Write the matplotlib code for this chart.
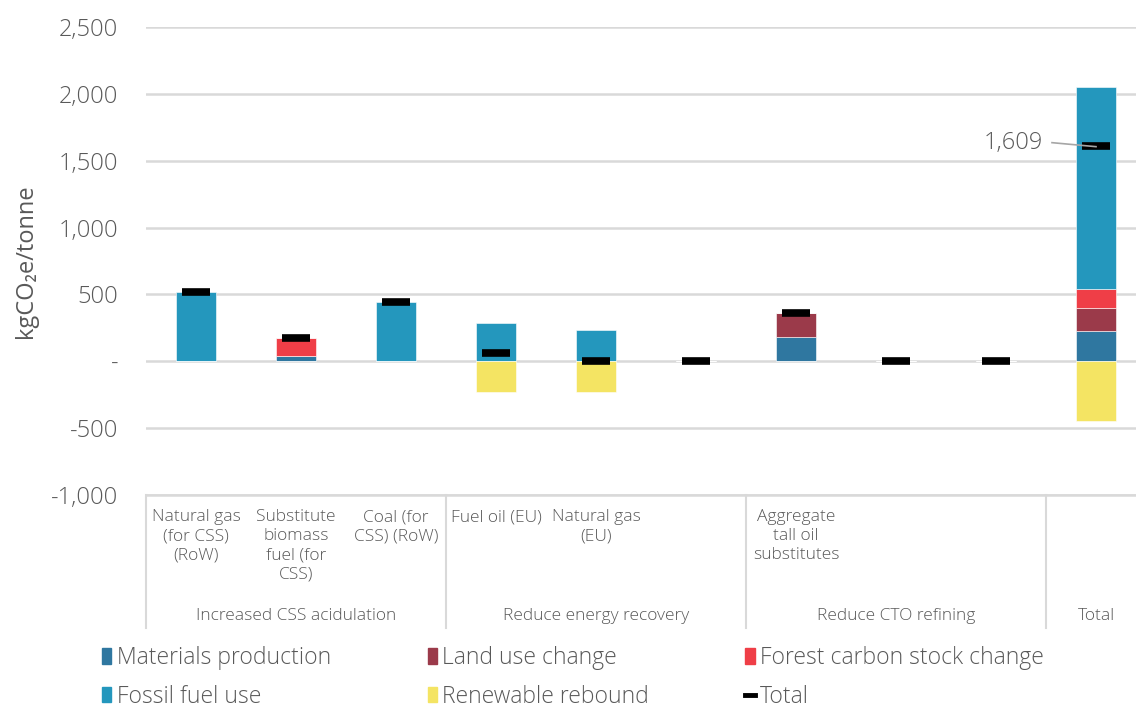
import matplotlib.pyplot as plt
import numpy as np
from matplotlib.patches import Patch
from matplotlib.lines import Line2D

plt.rcParams['font.family'] = ['Open Sans', 'DejaVu Sans']
plt.rcParams['font.weight'] = 'light'

# data
categories = ["Natural gas\n(for CSS)\n(RoW)", "Substitute\nbiomass\nfuel (for\nCSS)",
              "Coal (for\nCSS) (RoW)", "Fuel oil (EU)", "Natural gas\n(EU)", "",
              "Aggregate\ntall oil\nsubstitutes", "", "", ""]
groups = ["Increased CSS acidulation", "Reduce energy recovery", "Reduce CTO refining", "Total"]
group_sizes = [3, 3, 3, 1]

materials = [0, 37, 0, 0, 0, 0, 182, 0, 0, 227]
land_use = [0, 0, 0, 0, 0, 0, 180, 0, 0, 175]
forest = [0, 137, 0, 0, 0, 0, 0, 0, 0, 139]
fossil = [516, 0, 444, 290, 232, 0, 0, 0, 0, 1513]
renewable = [0, 0, 0, -230, -228, 0, 0, 0, 0, -445]
totals = [516, 174, 444, 65, 4, 0, 362, 0, 0, 1609]

c_mat = '#2f77a0'
c_land = '#9b3a4a'
c_forest = '#ef3e47'
c_fossil = '#2497bd'
c_renew = '#f4e463'
grey = '#595959'
gridc = '#d9d9d9'

fig = plt.figure(figsize=(11.36, 7.13), dpi=100)
ax = fig.add_axes([146/1136, (713-495)/713, 1000/1136, 468/713])

x = np.arange(len(categories))
w = 0.4
bottom = np.zeros(len(x))
for vals, col in [(materials, c_mat), (land_use, c_land), (forest, c_forest), (fossil, c_fossil)]:
    v = np.array(vals, dtype=float)
    ax.bar(x, v, w, bottom=bottom, color=col, edgecolor='white', linewidth=0.4, zorder=2)
    bottom += v
ax.bar(x, renewable, w, color=c_renew, edgecolor='white', linewidth=0.4, zorder=2)
ax.plot(x, totals, linestyle='none', marker='_', markersize=20, markeredgewidth=5.5,
        color='black', zorder=3)

# annotation for the overall total
ax.plot([8.56, 9.0], [1635, 1605], color='#a6a6a6', lw=1.2, zorder=4)
ax.text(8.47, 1635, "1,609", ha='right', va='center', fontsize=17, color=grey)

ax.set_xlim(-0.5, 9.5)
ax.set_ylim(-1000, 2500)
ax.set_yticks(np.arange(-1000, 2501, 500))
ax.set_yticklabels(['-1,000', '-500', '-', '500', '1,000', '1,500', '2,000', '2,500'])
ax.tick_params(axis='y', length=0, pad=20, labelsize=17, labelcolor=grey)
ax.tick_params(axis='x', length=0, labelbottom=False)
ax.yaxis.grid(True, color=gridc, lw=1.8, zorder=0)
ax.set_axisbelow(True)
for s in ['top', 'right', 'left']:
    ax.spines[s].set_visible(False)
ax.spines['bottom'].set_color(gridc)
ax.spines['bottom'].set_linewidth(1.8)
ax.set_ylabel("kgCO\u2082e/tonne", fontsize=17, color=grey, labelpad=9)

# multi-level category axis
tr = ax.get_xaxis_transform()
for xi, lab in zip(x, categories):
    ax.text(xi, -0.03, lab, transform=tr, ha='center', va='top', fontsize=12.5,
            color=grey, linespacing=1.25, clip_on=False)
start = -0.5
edges = [start]
for g, n in zip(groups, group_sizes):
    ax.text(start + n/2, -0.2585, g, transform=tr, ha='center', va='center',
            fontsize=12.5, color=grey, clip_on=False)
    start += n
    edges.append(start)
for e in edges:
    ax.plot([e, e], [0, -0.284], transform=tr, color=gridc, lw=1.5, clip_on=False)

handles = [Patch(color=c_mat), Patch(color=c_fossil), Patch(color=c_land),
           Patch(color=c_renew), Patch(color=c_forest),
           Line2D([], [], color='black', lw=3.5)]
labels = ["Materials production", "Fossil fuel use", "Land use change",
          "Renewable rebound", "Forest carbon stock change", "Total"]
leg = fig.legend(handles, labels, ncol=3, loc='upper left', bbox_to_anchor=(0.09, 0.094),
                 frameon=False, fontsize=16.5, handlelength=0.4, handleheight=0.65,
                 handletextpad=0.25, columnspacing=4.2, labelspacing=0.65,
                 borderaxespad=0, borderpad=0)
for t in leg.get_texts():
    t.set_color(grey)

fig.savefig('out.png', dpi=100)
